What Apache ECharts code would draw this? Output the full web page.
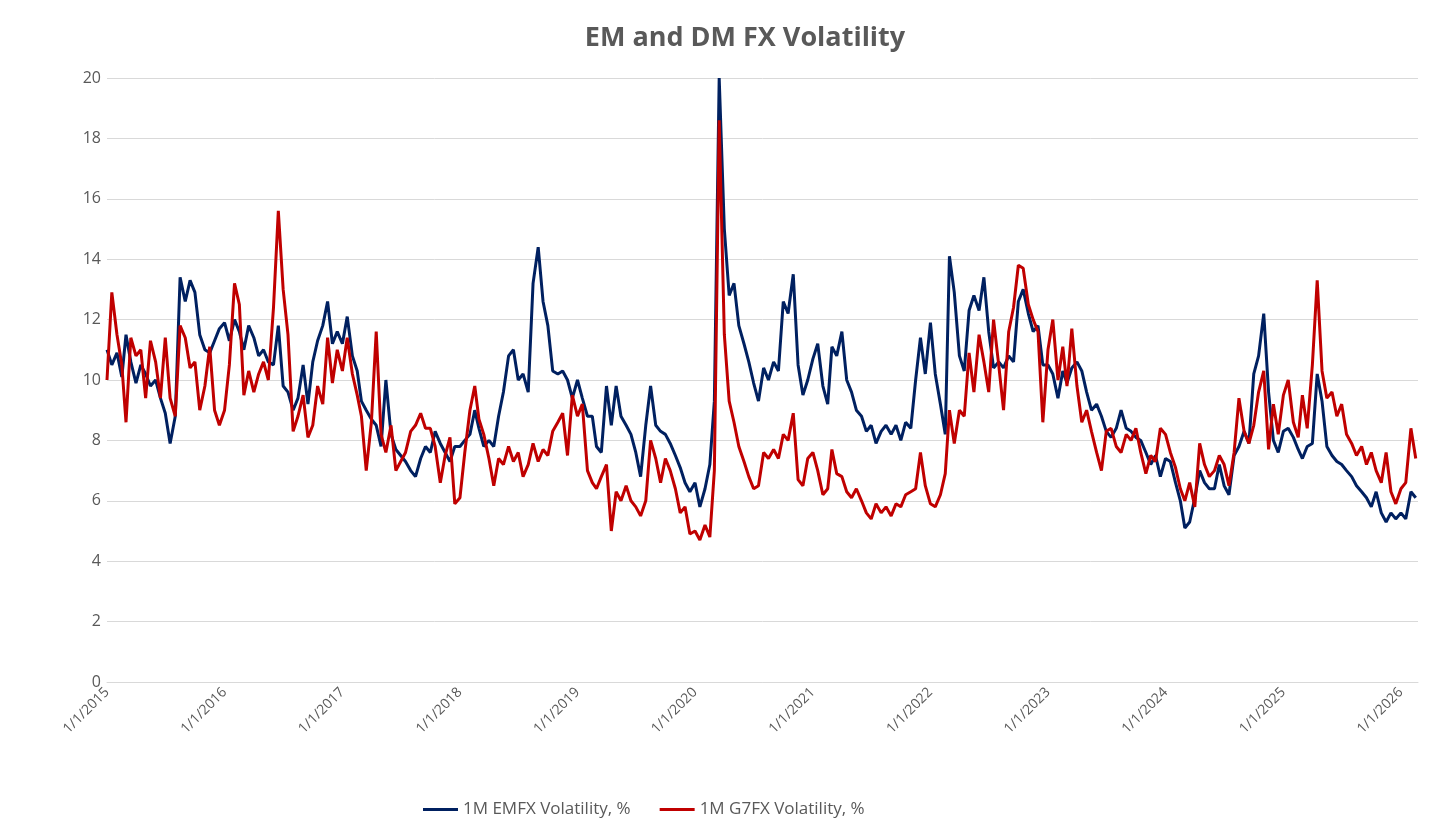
<!DOCTYPE html>
<html>
<head>
<meta charset="utf-8">
<title>EM and DM FX Volatility</title>
<script src="https://cdn.jsdelivr.net/npm/echarts@6/dist/echarts.min.js"></script>
<style>
  html, body { margin: 0; padding: 0; background: #fff; }
  #chart { width: 1452px; height: 836px; }
</style>
</head>
<body>
<div id="chart"></div>
<script>
// semi-monthly readings (1st and 16th of each month), Jan 2015 - Feb 2026
const startYear = 2015;
const yTicks = [0, 2, 4, 6, 8, 10, 12, 14, 16, 18, 20];

const emfxVol = [
  11.0, 10.5, 10.9, 10.1, 11.5, 10.6, 9.9, 10.5, 10.2, 9.8, 10.0, 9.4, 8.9, 7.9, 8.8, 13.4, 12.6, 13.3, 12.9, 11.5, 11.0, 10.9, 11.3, 11.7, // 2015
  11.9, 11.3, 12.0, 11.6, 11.0, 11.8, 11.4, 10.8, 11.0, 10.6, 10.5, 11.8, 9.8, 9.6, 9.0, 9.4, 10.5, 9.2, 10.6, 11.3, 11.8, 12.6, 11.2, 11.6, // 2016
  11.2, 12.1, 10.8, 10.3, 9.3, 9.0, 8.7, 8.5, 7.8, 10.0, 8.2, 7.7, 7.5, 7.3, 7.0, 6.8, 7.4, 7.8, 7.6, 8.3, 7.9, 7.6, 7.3, 7.8, // 2017
  7.8, 8.0, 8.2, 9.0, 8.4, 7.8, 8.0, 7.8, 8.8, 9.6, 10.8, 11.0, 10.0, 10.2, 9.6, 13.2, 14.4, 12.6, 11.8, 10.3, 10.2, 10.3, 10.0, 9.4, // 2018
  10.0, 9.4, 8.8, 8.8, 7.8, 7.6, 9.8, 8.5, 9.8, 8.8, 8.5, 8.2, 7.6, 6.8, 8.5, 9.8, 8.5, 8.3, 8.2, 7.9, 7.5, 7.1, 6.6, 6.3, // 2019
  6.6, 5.8, 6.4, 7.2, 9.3, 20.0, 15.0, 12.8, 13.2, 11.8, 11.2, 10.6, 9.9, 9.3, 10.4, 10.0, 10.6, 10.3, 12.6, 12.2, 13.5, 10.5, 9.5, 10.0, // 2020
  10.7, 11.2, 9.8, 9.2, 11.1, 10.8, 11.6, 10.0, 9.6, 9.0, 8.8, 8.3, 8.5, 7.9, 8.3, 8.5, 8.2, 8.5, 8.0, 8.6, 8.4, 10.0, 11.4, 10.2, // 2021
  11.9, 10.2, 9.2, 8.2, 14.1, 12.9, 10.8, 10.3, 12.3, 12.8, 12.3, 13.4, 11.6, 10.4, 10.6, 10.4, 10.8, 10.6, 12.6, 13.0, 12.2, 11.6, 11.8, 10.5, // 2022
  10.5, 10.2, 9.4, 10.3, 9.9, 10.4, 10.6, 10.3, 9.6, 9.0, 9.2, 8.8, 8.3, 8.1, 8.4, 9.0, 8.4, 8.3, 8.1, 8.0, 7.6, 7.2, 7.5, 6.8, // 2023
  7.4, 7.3, 6.6, 6.0, 5.1, 5.3, 6.1, 7.0, 6.6, 6.4, 6.4, 7.2, 6.5, 6.2, 7.5, 7.8, 8.3, 7.9, 10.2, 10.8, 12.2, 9.6, 8.0, 7.6, // 2024
  8.3, 8.4, 8.1, 7.7, 7.4, 7.8, 7.9, 10.2, 9.3, 7.8, 7.5, 7.3, 7.2, 7.0, 6.8, 6.5, 6.3, 6.1, 5.8, 6.3, 5.6, 5.3, 5.6, 5.4, // 2025
  5.6, 5.4, 6.3, 6.1 // 2026
];

const g7fxVol = [
  10.0, 12.9, 11.5, 10.5, 8.6, 11.4, 10.8, 11.0, 9.4, 11.3, 10.6, 9.4, 11.4, 9.4, 8.8, 11.8, 11.4, 10.4, 10.6, 9.0, 9.8, 11.1, 9.0, 8.5, // 2015
  9.0, 10.5, 13.2, 12.5, 9.5, 10.3, 9.6, 10.2, 10.6, 10.0, 12.4, 15.6, 13.0, 11.5, 8.3, 8.8, 9.5, 8.1, 8.5, 9.8, 9.2, 11.4, 9.9, 11.0, // 2016
  10.3, 11.4, 10.2, 9.5, 8.8, 7.0, 8.6, 11.6, 8.2, 7.6, 8.5, 7.0, 7.3, 7.6, 8.3, 8.5, 8.9, 8.4, 8.4, 7.8, 6.6, 7.5, 8.1, 5.9, // 2017
  6.1, 7.6, 9.0, 9.8, 8.7, 8.2, 7.4, 6.5, 7.4, 7.2, 7.8, 7.3, 7.6, 6.8, 7.2, 7.9, 7.3, 7.7, 7.5, 8.3, 8.6, 8.9, 7.5, 9.5, // 2018
  8.8, 9.2, 7.0, 6.6, 6.4, 6.8, 7.2, 5.0, 6.3, 6.0, 6.5, 6.0, 5.8, 5.5, 6.0, 8.0, 7.4, 6.6, 7.4, 7.0, 6.4, 5.6, 5.8, 4.9, // 2019
  5.0, 4.7, 5.2, 4.8, 7.0, 18.6, 11.5, 9.3, 8.6, 7.8, 7.3, 6.8, 6.4, 6.5, 7.6, 7.4, 7.7, 7.4, 8.2, 8.0, 8.9, 6.7, 6.5, 7.4, // 2020
  7.6, 7.0, 6.2, 6.4, 7.7, 6.9, 6.8, 6.3, 6.1, 6.4, 6.0, 5.6, 5.4, 5.9, 5.6, 5.8, 5.5, 5.9, 5.8, 6.2, 6.3, 6.4, 7.6, 6.5, // 2021
  5.9, 5.8, 6.2, 6.9, 9.0, 7.9, 9.0, 8.8, 10.9, 9.6, 11.5, 10.6, 9.6, 12.0, 10.5, 9.0, 11.6, 12.4, 13.8, 13.7, 12.5, 12.0, 11.6, 8.6, // 2022
  11.0, 12.0, 10.0, 11.1, 9.8, 11.7, 9.8, 8.6, 9.0, 8.3, 7.6, 7.0, 8.3, 8.4, 7.8, 7.6, 8.2, 8.0, 8.4, 7.6, 6.9, 7.5, 7.3, 8.4, // 2023
  8.2, 7.6, 7.1, 6.4, 6.0, 6.6, 5.8, 7.9, 7.2, 6.8, 7.0, 7.5, 7.2, 6.5, 7.6, 9.4, 8.3, 7.9, 8.5, 9.6, 10.3, 7.7, 9.2, 8.2, // 2024
  9.5, 10.0, 8.6, 8.1, 9.5, 8.4, 10.5, 13.3, 10.3, 9.4, 9.6, 8.8, 9.2, 8.2, 7.9, 7.5, 7.8, 7.2, 7.6, 7.0, 6.6, 7.6, 6.3, 5.9, // 2025
  6.4, 6.6, 8.4, 7.4 // 2026
];

const seriesNames = ['1M EMFX Volatility, %', '1M G7FX Volatility, %'];

// day offset of each reading from 1/1/2015
const DAY = 86400000;
const origin = Date.UTC(startYear, 0, 1);
const dayOffsets = emfxVol.map((_, i) => {
  const year = startYear + Math.floor(i / 24);
  const month = Math.floor((i % 24) / 2);
  const day = i % 2 ? 16 : 1;
  return (Date.UTC(year, month, day) - origin) / DAY;
});

const YEAR = 365.25;
const xMax = 4071; // ~23 Feb 2026, right edge of the plot

const chart = echarts.init(document.getElementById('chart'));
const textColor = '#595959';
const fontFamily = '"Open Sans", "Noto Sans", sans-serif';

chart.setOption({
  animation: false,
  textStyle: { fontFamily: fontFamily },
  title: {
    text: 'EM and DM FX Volatility',
    left: 740,
    textAlign: 'center',
    top: 20,
    textStyle: { color: textColor, fontSize: 27, fontWeight: 'bold', fontFamily: fontFamily }
  },
  legend: {
    top: 796,
    left: 418,
    icon: 'rect',
    itemWidth: 35,
    itemHeight: 3,
    itemGap: 29,
    textStyle: { color: textColor, fontSize: 17, fontFamily: fontFamily },
    data: seriesNames
  },
  grid: { left: 107, right: 34, top: 78, bottom: 154, containLabel: false },
  xAxis: {
    type: 'value',
    min: 0,
    max: xMax,
    interval: YEAR,
    axisLine: { show: true, lineStyle: { color: '#d9d9d9', width: 1 } },
    axisTick: { show: false },
    splitLine: { show: false },
    axisLabel: {
      rotate: 45,
      margin: 8,
      color: textColor,
      fontSize: 14,
      showMaxLabel: false,
      formatter: function (v) {
        const k = v / YEAR;
        const r = Math.round(k);
        return Math.abs(k - r) < 0.01 ? '1/1/' + (startYear + r) : '';
      }
    }
  },
  yAxis: {
    type: 'value',
    min: yTicks[0],
    max: yTicks[yTicks.length - 1],
    interval: 2,
    axisLine: { show: false },
    axisTick: { show: false },
    splitLine: { lineStyle: { color: '#d9d9d9', width: 1 } },
    axisLabel: { color: textColor, fontSize: 16, margin: 6 }
  },
  series: [
    {
      name: seriesNames[0],
      type: 'line',
      data: dayOffsets.map((d, i) => [d, emfxVol[i]]),
      showSymbol: false,
      lineStyle: { color: '#002060', width: 3 },
      itemStyle: { color: '#002060' }
    },
    {
      name: seriesNames[1],
      type: 'line',
      data: dayOffsets.map((d, i) => [d, g7fxVol[i]]),
      showSymbol: false,
      lineStyle: { color: '#c00000', width: 3 },
      itemStyle: { color: '#c00000' }
    }
  ]
});
</script>
</body>
</html>
